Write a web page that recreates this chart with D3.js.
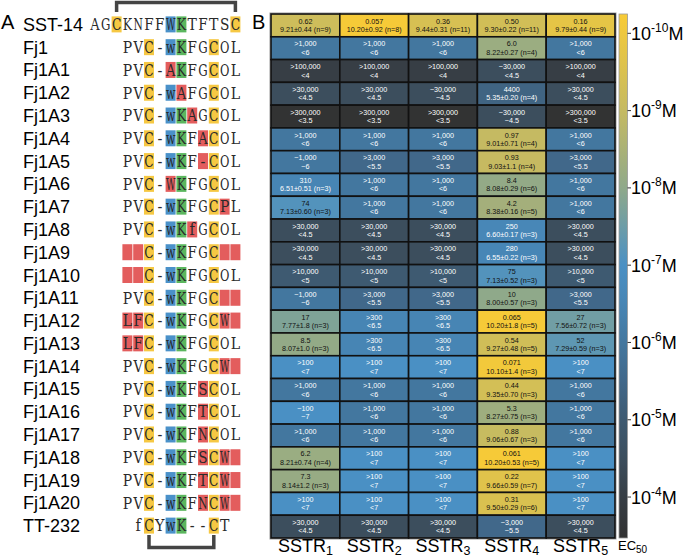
<!DOCTYPE html>
<html><head><meta charset="utf-8">
<script src="https://cdn.jsdelivr.net/npm/d3@7"></script>
<style>body{margin:0;background:#fff}svg{display:block}</style>
</head><body><svg id="c" width="685" height="560"></svg>
<script>
// ---------------- DATA ----------------
const peptides = ["SST-14","Fj1","Fj1A1","Fj1A2","Fj1A3","Fj1A4","Fj1A5","Fj1A6","Fj1A7","Fj1A8","Fj1A9","Fj1A10",
  "Fj1A11","Fj1A12","Fj1A13","Fj1A14","Fj1A15","Fj1A16","Fj1A17","Fj1A18","Fj1A19","Fj1A20","TT-232"];
const sequences = ["AGCKNFFWKTFTSC","PVC-wKFGCOL","PVC-AKFGCOL","PVC-wAFGCOL","PVC-wKAGCOL","PVC-wKFACOL","PVC-wKF-COL",
  "PVC-WKFGCOL","PVC-wKFGCPL","PVC-wKfGCOL","  C-wKFGC  ","  C-wKFGCOL","PVC-wKFGC  ","LFC-wKFGCW ","LFC-wKFGCOL",
  "PVC-wKFGCW ","PVC-wKFSCOL","PVC-wKFTCOL","PVC-wKFNCOL","PVC-wKFSCW ","PVC-wKFTCW ","PVC-wKFNCW ","fCYwK--CT"];
const seqOffset = [-3,0,0,0,0,0,0,0,0,0,0,0,0,0,0,0,0,0,0,0,0,0,1];
const seqHighlight = ["..y....bg....y","..y.bg..y..","..y.rg..y..","..y.br..y..","..y.bgr.y..","..y.bg.ry..","..y.bg.ry..",
  "..y.rg..y..","..y.bg..yr.","..y.bgr.y..","rry.bg..yrr","rry.bg..y..","..y.bg..yrr","rry.bg..yrr","rry.bg..y..",
  "..y.bg..yrr","..y.bg.ry..","..y.bg.ry..","..y.bg.ry..","..y.bg.ryrr","..y.bg.ryrr","..y.bg.ryrr",".y.bg..y."];

const receptors = ["1","2","3","4","5"];
const ec50SSTR1 = ["0.62",">1,000",">100,000",">30,000",">300,000",">1,000","~1,000","310","74",">30,000",">30,000",">10,000",
  "~1,000","17","8.5",">100",">1,000","~100",">1,000","6.2","7.3",">100",">30,000"];
const pec50SSTR1 = ["9.21±0.44 (n=9)","<6","<4","<4.5","<3.5","<6","~6","6.51±0.51 (n=3)","7.13±0.60 (n=3)","<4.5","<4.5","<5",
  "~6","7.77±1.8 (n=3)","8.07±1.0 (n=3)","<7","<6","~7","<6","8.21±0.74 (n=4)","8.14±1.2 (n=3)","<7","<4.5"];
const ec50SSTR2 = ["0.057",">1,000",">100,000",">30,000",">300,000",">1,000",">3,000",">1,000",">1,000",">30,000",">30,000",">10,000",
  ">3,000",">300",">300",">100",">1,000",">1,000",">1,000",">100",">100",">100",">30,000"];
const pec50SSTR2 = ["10.20±0.92 (n=8)","<6","<4","<4.5","<3.5","<6","<5.5","<6","<6","<4.5","<4.5","<5",
  "<5.5","<6.5","<6.5","<7","<6","<6","<6","<7","<7","<7","<4.5"];
const ec50SSTR3 = ["0.36",">1,000",">100,000","~30,000",">300,000",">1,000",">3,000",">1,000",">1,000",">30,000",">30,000",">10,000",
  ">3,000",">300",">300",">100",">1,000",">1,000",">1,000",">100",">100",">100",">30,000"];
const pec50SSTR3 = ["9.44±0.31 (n=11)","<6","<4","~4.5","<3.5","<6","<5.5","<6","<6","<4.5","<4.5","<5",
  "<5.5","<6.5","<6.5","<7","<6","<6","<6","<7","<7","<7","<4.5"];
const ec50SSTR4 = ["0.50","6.0","~30,000","4400","~30,000","0.97","0.93","8.4","4.2","250","280","75",
  "10","0.065","0.54","0.071","0.44","5.3","0.88","0.061","0.22","0.31","~3,000"];
const pec50SSTR4 = ["9.30±0.22 (n=11)","8.22±0.27 (n=4)","<4.5","5.35±0.20 (n=4)","~4.5","9.01±0.71 (n=4)","9.03±1.1 (n=4)",
  "8.08±0.29 (n=6)","8.38±0.16 (n=5)","6.60±0.17 (n=3)","6.55±0.22 (n=3)","7.13±0.52 (n=3)","8.00±0.57 (n=3)",
  "10.20±1.8 (n=5)","9.27±0.48 (n=5)","10.10±1.4 (n=3)","9.35±0.70 (n=3)","8.27±0.75 (n=3)","9.06±0.67 (n=3)",
  "10.20±0.53 (n=5)","9.66±0.59 (n=7)","9.50±0.29 (n=6)","~5.5"];
const ec50SSTR5 = ["0.16",">1,000",">100,000",">30,000",">300,000",">1,000",">3,000",">1,000",">1,000",">30,000",">30,000",">10,000",
  ">3,000","27","52",">100",">1,000",">1,000",">1,000",">100",">100",">100",">30,000"];
const pec50SSTR5 = ["9.79±0.44 (n=9)","<6","<4","<4.5","<3.5","<6","<5.5","<6","<6","<4.5","<4.5","<5",
  "<5.5","7.56±0.72 (n=3)","7.29±0.59 (n=3)","<7","<6","<6","<6","<7","<7","<7","<4.5"];
const ec50Cols = [ec50SSTR1,ec50SSTR2,ec50SSTR3,ec50SSTR4,ec50SSTR5];
const pec50Cols = [pec50SSTR1,pec50SSTR2,pec50SSTR3,pec50SSTR4,pec50SSTR5];

const colorStops = [3.47,4,4.5,5,5.5,6,6.5,7,8,9,10.25];
const colorRange = ["#323232","#373e45","#3c4e5d","#3e5a71","#41688a","#43779f","#4785b4","#4a90c4","#8fa98a","#c5ba62","#f8cb36"];
const tickValues = [10,9,8,7,6,5,4];
const tickExps = ["-10","-9","-8","-7","-6","-5","-4"];

// ---------------- DRAW ----------------
const svg = d3.select("#c");
const FONT = "'Liberation Sans', Arial, sans-serif";
const SEQFONT = "'DejaVu Serif Condensed', 'DejaVu Serif', serif";

const y = d3.scaleBand().domain(peptides).range([14, 538]).padding(0);
const x = d3.scaleBand().domain(receptors).range([271, 615]).padding(0);
const pScale = d3.scaleLinear().domain([3.47, 10.25]).range([538, 14]);
const color = d3.scaleLinear().domain(colorStops).range(colorRange).clamp(true);
const charX = d3.scaleLinear().domain([0, 1]).range([122, 132.8]);
const hlColor = {y:"#f6c843", b:"#4a91c9", g:"#5bb65e", r:"#e25454"};

// Panel labels
svg.append("text").attr("x", 1).attr("y", 29).attr("font-family", FONT).attr("font-size", 20).text("A");
svg.append("text").attr("x", 252).attr("y", 29).attr("font-family", FONT).attr("font-size", 20).text("B");

// Panel A
const rowsA = svg.append("g");
peptides.forEach((p, i) => {
  const cy = y(p) + y.bandwidth() / 2 - 1;
  rowsA.append("text").attr("x", 23).attr("y", cy + 6.5).attr("font-family", FONT).attr("font-size", 18).text(p);
  const seq = sequences[i], hl = seqHighlight[i], off = seqOffset[i];
  for (let k = 0; k < seq.length; k++) {
    const h = hl[k];
    if (h !== ".") {
      rowsA.append("rect").attr("x", charX(k + off) + 0.4).attr("y", cy - 8).attr("width", 10).attr("height", 16)
        .attr("fill", hlColor[h]).attr("opacity", h === "r" ? 0.95 : 1);
    }
  }
  for (let k = 0; k < seq.length; k++) {
    if (seq[k] === " ") continue;
    const t = rowsA.append("text").attr("x", 0).attr("y", 0).attr("text-anchor", "middle")
      .attr("font-family", SEQFONT).attr("font-size", 16).attr("fill", "#2a2a2a").text(seq[k]);
    const w = t.node().getComputedTextLength();
    const s = Math.min(1, 9.4 / w);
    t.attr("transform", `translate(${charX(k + off + 0.5)},${cy + 5.8}) scale(${s},1)`);
  }
});
// brackets
const topY = y(peptides[0]);
svg.append("path").attr("fill", "none").attr("stroke", "#444").attr("stroke-width", 3.5)
  .attr("d", `M${charX(-1 + 0.5)},${topY - 2}V${topY - 11.5}H${charX(10 + 0.5)}V${topY - 2}`);
const botY = y(peptides[22]) + y.bandwidth();
svg.append("path").attr("fill", "none").attr("stroke", "#444").attr("stroke-width", 3.5)
  .attr("d", `M${charX(2 + 0.5)},${botY - 3}V${botY + 9.5}H${charX(8 + 0.5)}V${botY - 3}`);

// Panel B heatmap
const cells = [];
receptors.forEach((r, c) => {
  peptides.forEach((p, i) => {
    const ptxt = pec50Cols[c][i];
    const v = parseFloat(ptxt.replace(/[<>~]/g, ""));
    cells.push({r, p, top: ec50Cols[c][i], bot: ptxt, v});
  });
});
const hm = svg.append("g");
hm.append("rect").attr("x", x.range()[0] - 1).attr("y", 13).attr("width", x.range()[1] - x.range()[0] + 2)
  .attr("height", 526).attr("fill", "none").attr("stroke", "#999").attr("stroke-width", 1);
const cg = hm.selectAll("g.cell").data(cells).join("g").attr("class", "cell");
cg.append("rect").attr("x", d => x(d.r)).attr("y", d => y(d.p)).attr("width", x.bandwidth()).attr("height", y.bandwidth())
  .attr("fill", d => color(d.v)).attr("stroke", "#111").attr("stroke-width", 1.6);
cg.append("text").attr("x", d => x(d.r) + x.bandwidth() / 2).attr("y", d => y(d.p) + y.bandwidth() / 2 - 1.8)
  .attr("text-anchor", "middle").attr("font-family", FONT).attr("font-size", 7.2)
  .attr("fill", d => d.v > 7 ? "#111" : "#fff").text(d => d.top);
cg.append("text").attr("x", d => x(d.r) + x.bandwidth() / 2).attr("y", d => y(d.p) + y.bandwidth() / 2 + 6.6)
  .attr("text-anchor", "middle").attr("font-family", FONT).attr("font-size", 7.2)
  .attr("fill", d => d.v > 7 ? "#111" : "#fff").text(d => d.bot);

// column labels
receptors.forEach(r => {
  const t = svg.append("text").attr("x", x(r) + x.bandwidth() / 2).attr("y", 552).attr("text-anchor", "middle")
    .attr("font-family", FONT).attr("font-size", 18);
  t.append("tspan").text("SSTR");
  t.append("tspan").attr("font-size", 12.5).attr("dy", 3).text(r);
});

// colorbar
const defs = svg.append("defs");
const grad = defs.append("linearGradient").attr("id", "cb").attr("x1", 0).attr("x2", 0).attr("y1", 1).attr("y2", 0);
colorStops.forEach((s, k) => {
  grad.append("stop").attr("offset", (s - colorStops[0]) / (colorStops[colorStops.length - 1] - colorStops[0]))
    .attr("stop-color", colorRange[k]);
});
svg.append("rect").attr("x", 619).attr("y", pScale(10.25)).attr("width", 8.5).attr("height", pScale(3.47) - pScale(10.25))
  .attr("fill", "url(#cb)").attr("stroke", "#999").attr("stroke-width", 0.8);
tickValues.forEach((tv, k) => {
  const ty = pScale(tv);
  svg.append("line").attr("x1", 627.5).attr("x2", 631).attr("y1", ty).attr("y2", ty).attr("stroke", "#333").attr("stroke-width", 1);
  const t = svg.append("text").attr("x", 631).attr("y", ty + 6.5).attr("font-family", FONT).attr("font-size", 18);
  t.append("tspan").text("10");
  t.append("tspan").attr("font-size", 12).attr("dy", -8).text(tickExps[k]);
  t.append("tspan").attr("dy", 8).text("M");
});
const ec = svg.append("text").attr("x", 618).attr("y", 550).attr("font-family", FONT).attr("font-size", 13);
ec.append("tspan").text("EC");
ec.append("tspan").attr("font-size", 10).attr("dy", 3).text("50");
</script></body></html>
